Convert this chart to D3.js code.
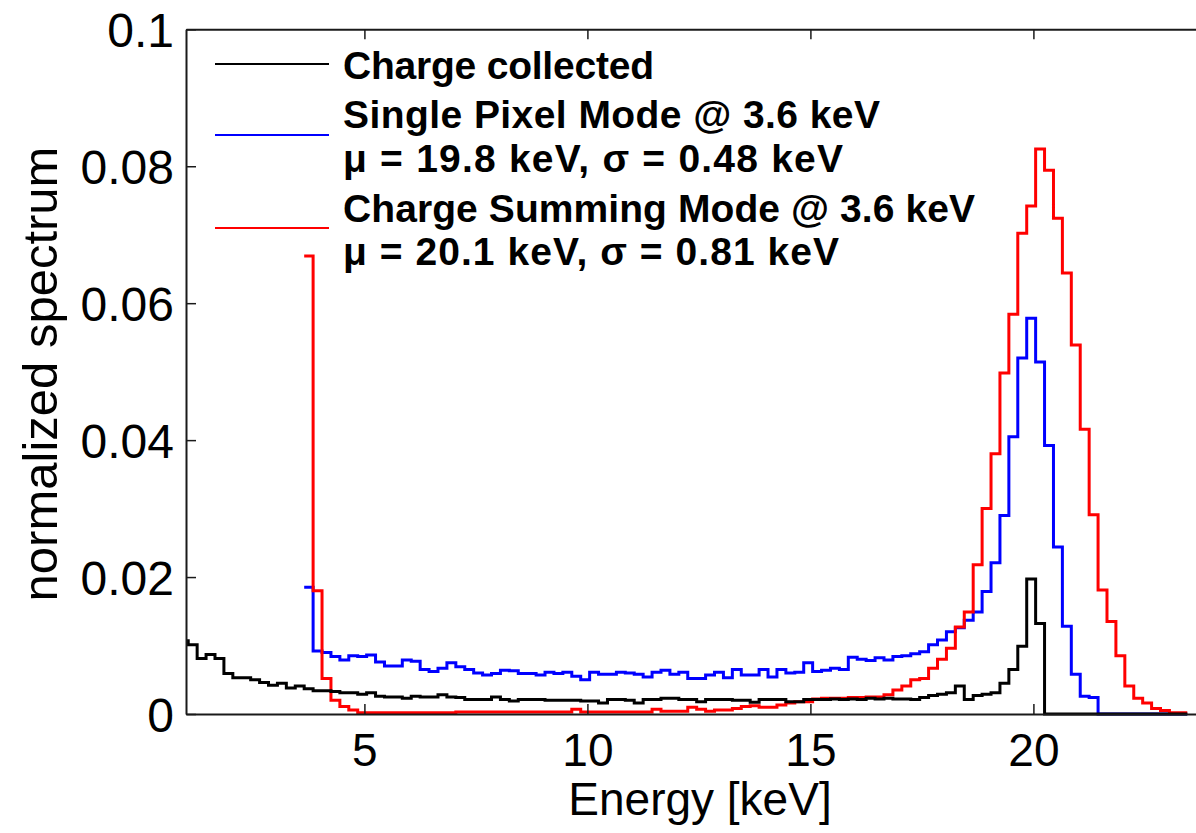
<!DOCTYPE html>
<html><head><meta charset="utf-8">
<script src="https://cdn.jsdelivr.net/npm/d3@7"></script>
<style>html,body{margin:0;padding:0;background:#fff;overflow:hidden}</style>
</head><body><svg id="c" width="1196" height="833"></svg>
<script>
// ---- data (bin width 0.2 keV; bin k starts at 0.85 + 0.2*k keV) ----
const binStart = 0.85;
const binWidth = 0.2;
const chargeCollectedFirstBin = 0;
const singlePixelFirstBin = 14;
const chargeSummingFirstBin = 14;

const chargeCollected = [
  0.0107,0.0101,0.0081,0.0087,0.0081,0.0059,0.0053,0.0053,0.0050,0.0046,
  0.0042,0.0045,0.0038,0.0041,0.0037,0.0034,0.0034,0.0033,0.0031,0.0031,
  0.0029,0.0031,0.0026,0.0025,0.0025,0.0023,0.0026,0.0025,0.0025,0.0028,
  0.0025,0.0024,0.0021,0.0021,0.0021,0.0025,0.0021,0.0019,0.0021,0.0021,
  0.0021,0.0020,0.0020,0.0020,0.0020,0.0019,0.0019,0.0016,0.0021,0.0021,
  0.0020,0.0016,0.0021,0.0021,0.0023,0.0023,0.0021,0.0021,0.0018,0.0021,
  0.0021,0.0021,0.0020,0.0020,0.0017,0.0021,0.0021,0.0021,0.0018,0.0018,
  0.0021,0.0021,0.0021,0.0022,0.0021,0.0022,0.0021,0.0023,0.0022,0.0023,
  0.0022,0.0022,0.0021,0.0024,0.0027,0.0029,0.0031,0.0041,0.0021,0.0027,
  0.0029,0.0031,0.0045,0.0065,0.0099,0.0197,0.0132,
  0,0,0,0,0,0,0,0,0,0,0,0,0,0,0,0
];

const singlePixel = [
  0.0185,0.0092,0.0090,0.0084,0.0079,0.0085,0.0084,0.0086,0.0076,0.0070,
  0.0070,0.0079,0.0077,0.0065,0.0062,0.0067,0.0075,0.0069,0.0065,0.0060,
  0.0057,0.0059,0.0064,0.0063,0.0059,0.0059,0.0057,0.0061,0.0059,0.0061,
  0.0055,0.0050,0.0061,0.0058,0.0058,0.0061,0.0060,0.0058,0.0054,0.0061,
  0.0064,0.0058,0.0061,0.0052,0.0052,0.0057,0.0061,0.0053,0.0065,0.0057,
  0.0057,0.0065,0.0054,0.0065,0.0060,0.0061,0.0075,0.0062,0.0064,0.0067,
  0.0065,0.0083,0.0080,0.0078,0.0082,0.0079,0.0084,0.0085,0.0088,0.0091,
  0.0101,0.0108,0.0120,0.0126,0.0137,0.0149,0.0179,0.0221,0.0290,0.0405,
  0.0520,0.0578,0.0514,0.0392,0.0244,0.0128,0.0058,0.0026,0.0024,0,
  0,0,0,0,0,0,0,0,0
];

const chargeSumming = [
  0.0669,0.0180,0.0052,0.0020,0.0011,0.0006,
  0.0002,0.0002,0.0002,0.0002,0.0002,0.0002,0.0002,0.0002,0.0002,0.0002,0.0002,
  0.0003,0.0003,0.0003,0.0003,0.0003,0.0003,0.0003,0.0003,0.0003,0.0003,0.0003,0.0003,0.0003,
  0.0007,
  0.0003,0.0003,0.0003,0.0003,0.0003,0.0003,0.0003,0.0003,
  0.0007,0.0004,0.0004,0.0004,0.0010,0.0007,0.0004,0.0006,0.0006,0.0008,
  0.0011,0.0012,0.0010,0.0010,0.0013,0.0016,0.0018,0.0018,0.0022,0.0023,
  0.0023,0.0023,0.0024,0.0024,0.0025,0.0025,0.0028,0.0035,0.0041,0.0050,
  0.0052,0.0067,0.0080,0.0096,0.0127,0.0149,0.0218,0.0300,0.0380,0.0498,
  0.0584,0.0702,0.0742,0.0825,0.0794,0.0724,0.0644,0.0539,0.0416,0.0291,
  0.0181,0.0135,0.0085,0.0041,0.0023,0.0016,0.0008,0.0005,0.0002,0.0002
];

const xTicks = [5, 10, 15, 20];
const yTicks = [0, 0.02, 0.04, 0.06, 0.08, 0.1];
const yTickLabels = ["0", "0.02", "0.04", "0.06", "0.08", "0.1"];
const seriesNames = ["Charge collected", "Single Pixel Mode @ 3.6 keV", "Charge Summing Mode @ 3.6 keV"];
const seriesStats = ["", "\u03bc = 19.8 keV, \u03c3 = 0.48 keV", "\u03bc = 20.1 keV, \u03c3 = 0.81 keV"];
const seriesColors = ["#000000", "#0000ff", "#ff0000"];
const xLabel = "Energy [keV]";
const yLabel = "normalized spectrum";

// ---- drawing ----
const W = 1196, H = 833;
const pLeft = 186, pRight = 1211.8, pTop = 29.3, pBottom = 714;
const svg = d3.select("#c");
svg.append("rect").attr("width", W).attr("height", H).attr("fill", "#fff");

const x = d3.scaleLinear().domain([1, 24]).range([pLeft, pRight]);
const y = d3.scaleLinear().domain([0, 0.1]).range([pBottom, pTop]);

svg.append("defs").append("clipPath").attr("id", "plotclip")
  .append("rect").attr("x", pLeft).attr("y", pTop - 5).attr("width", pRight - pLeft).attr("height", pBottom - pTop + 10);

function toSteps(values, firstBin) {
  const pts = values.map((v, i) => [binStart + binWidth * (firstBin + i), v]);
  pts.push([binStart + binWidth * (firstBin + values.length), values[values.length - 1]]);
  return pts;
}
const line = d3.line().x(d => x(d[0])).y(d => y(d[1])).curve(d3.curveStepAfter);

const series = [
  {vals: singlePixel, first: singlePixelFirstBin, color: seriesColors[1]},
  {vals: chargeSumming, first: chargeSummingFirstBin, color: seriesColors[2]},
  {vals: chargeCollected, first: chargeCollectedFirstBin, color: seriesColors[0]}
];
const plot = svg.append("g").attr("clip-path", "url(#plotclip)");
plot.selectAll("path.s").data(series).join("path")
  .attr("class", "s")
  .attr("d", d => line(toSteps(d.vals, d.first)))
  .attr("fill", "none").attr("stroke", d => d.color)
  .attr("stroke-width", 3).attr("stroke-linejoin", "miter");

const font = "'Liberation Sans', Arial, Helvetica, sans-serif";
const axisStroke = "#1a1a1a";

// bottom axis
const gx = svg.append("g").attr("transform", `translate(0,${pBottom})`)
  .call(d3.axisBottom(x).tickValues(xTicks).tickSize(-10).tickSizeOuter(0).tickFormat(d3.format("d")));
gx.selectAll("text").attr("y", 52).attr("dy", 0)
  .attr("font-family", font).attr("font-size", 46).attr("fill", "#000");
// top axis
const gxt = svg.append("g").attr("transform", `translate(0,${pTop})`)
  .call(d3.axisTop(x).tickValues(xTicks).tickSize(-10).tickSizeOuter(0).tickFormat(""));
// left axis
const gy = svg.append("g").attr("transform", `translate(${pLeft},0)`)
  .call(d3.axisLeft(y).tickValues(yTicks).tickSize(-10).tickSizeOuter(0).tickFormat((d, i) => yTickLabels[i]));
gy.selectAll("text").attr("x", -12).attr("dy", "0.36em")
  .attr("font-family", font).attr("font-size", 48).attr("fill", "#000");
// right axis
const gyr = svg.append("g").attr("transform", `translate(${pRight},0)`)
  .call(d3.axisRight(y).tickValues(yTicks).tickSize(-10).tickSizeOuter(0).tickFormat(""));

[gx, gxt, gy, gyr].forEach(g => {
  g.selectAll(".domain").attr("stroke", axisStroke).attr("stroke-width", 2);
  g.selectAll(".tick line").attr("stroke", axisStroke).attr("stroke-width", 1.5);
});

// axis labels
svg.append("text").attr("x", 700).attr("y", 815).attr("text-anchor", "middle")
  .attr("font-family", font).attr("font-size", 46).attr("fill", "#000").text(xLabel);
svg.append("text").attr("transform", "translate(57,374) rotate(-90)").attr("text-anchor", "middle")
  .attr("font-family", font).attr("font-size", 49).attr("fill", "#000").text(yLabel);

// legend
const legendLineY = [64, 135, 228];
const legendTextRows = [
  {t: seriesNames[0], y: 78.5, w: 311},
  {t: seriesNames[1], y: 128, w: 537},
  {t: seriesStats[1], y: 172, w: 500},
  {t: seriesNames[2], y: 221.5, w: 632},
  {t: seriesStats[2], y: 265, w: 496}
];
const lg = svg.append("g");
lg.selectAll("line").data(seriesColors).join("line")
  .attr("x1", 215).attr("x2", 329)
  .attr("y1", (d, i) => legendLineY[i]).attr("y2", (d, i) => legendLineY[i])
  .attr("stroke", d => d).attr("stroke-width", 2);
lg.selectAll("text").data(legendTextRows).join("text")
  .attr("x", 343).attr("y", d => d.y)
  .attr("font-family", font).attr("font-weight", "bold").attr("font-size", 39).attr("fill", "#000")
  .attr("textLength", d => d.w).attr("lengthAdjust", "spacing")
  .text(d => d.t);
</script>
</body></html>
